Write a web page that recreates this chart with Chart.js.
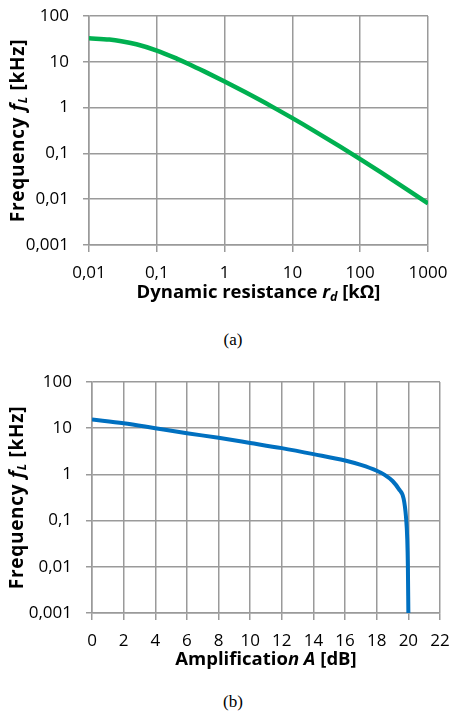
<!DOCTYPE html>
<html lang="en">
<head>
  <meta charset="UTF-8">
  <title>Frequency f_L vs dynamic resistance and amplification</title>
  <script src="https://cdn.jsdelivr.net/npm/chart.js"></script>
  <style>
    body {
      margin: 0;
      background: #fff;
      width: 450px;
      height: 715px;
      position: relative;
      overflow: hidden;
    }
    canvas {
      position: absolute;
      left: 0;
    }
    #chartA { top: 0; }
    #chartB { top: 365px; }
    .caption {
      position: absolute;
      width: 60px;
      left: 203px;
      text-align: center;
      font-family: "Liberation Serif", serif;
      font-size: 17px;
      color: #000;
    }
    #capA { top: 330px; }
    #capB { top: 692px; }
  </style>
</head>
<body>
  <canvas id="chartA" width="450" height="310"></canvas>
  <div class="caption" id="capA">(a)</div>
  <canvas id="chartB" width="450" height="310"></canvas>
  <div class="caption" id="capB">(b)</div>

  <script>
    // (a) dynamic resistance r_d [kOhm] -> frequency f_L [kHz]
    const resistance = [0.01, 0.02, 0.03, 0.05, 0.1, 0.2, 0.3, 0.5, 1, 2, 5, 10, 20, 50, 100, 200, 500, 1000];
    const freqA = [32.5, 30.6, 28.2, 24.1, 17.6, 11.6, 8.87, 6.18, 3.71, 2.18, 1.05, 0.588, 0.323, 0.142, 0.075, 0.0388, 0.016, 0.0081];

    // (b) amplification A [dB] -> frequency f_L [kHz]
    const amplification = [0, 2, 4, 6, 8, 10, 12, 14, 16, 17, 18, 18.5, 19, 19.4, 19.7, 19.85, 19.93, 19.97, 20];
    const freqB = [15.5, 12.8, 10, 7.8, 6.2, 4.8, 3.7, 2.75, 2.0, 1.6, 1.2, 0.98, 0.72, 0.48, 0.3, 0.12, 0.04, 0.01, 0.001];

    // tick values and labels (decimal comma as in the original)
    const freqTicks = [0.001, 0.01, 0.1, 1, 10, 100];
    const freqTickLabels = ['0,001', '0,01', '0,1', '1', '10', '100'];
    const resTicks = [0.01, 0.1, 1, 10, 100, 1000];
    const resTickLabels = ['0,01', '0,1', '1', '10', '100', '1000'];

    const FONT = '"Open Sans", sans-serif';
    Chart.defaults.font.family = FONT;
    Chart.defaults.color = '#000';

    const gridColor = '#9a9a9a';

    // draws a title made of several styled pieces (italic, subscript)
    function drawRich(ctx, parts, cx, cy, spacing) {
      ctx.letterSpacing = (spacing || 0) + 'px';
      let total = 0;
      parts.forEach(p => {
        ctx.font = p.font;
        p.w = ctx.measureText(p.text).width;
        total += p.w;
      });
      let x = cx - total / 2;
      ctx.textBaseline = 'middle';
      ctx.textAlign = 'left';
      parts.forEach(p => {
        ctx.font = p.font;
        ctx.fillText(p.text, x, cy + (p.dy || 0));
        x += p.w;
      });
      ctx.letterSpacing = '0px';
    }

    const axisTitles = {
      id: 'axisTitles',
      afterDraw(chart, args, opts) {
        const ctx = chart.ctx;
        const area = chart.chartArea;
        ctx.save();
        ctx.fillStyle = '#000';
        drawRich(ctx, opts.x, (area.left + area.right) / 2, opts.xTitleY, 0);
        ctx.translate(opts.yTitleX, (area.top + area.bottom) / 2);
        ctx.rotate(-Math.PI / 2);
        drawRich(ctx, opts.y, 0, 0, 0.7);
        ctx.restore();
      }
    };

    const font = (style, size) => style + ' ' + size + 'px ' + FONT;

    const freqTitle = [
      { text: 'Frequency ', font: font('bold', 19) },
      { text: 'f', font: font('italic bold', 19) },
      { text: 'L', font: font('italic bold', 12.5), dy: 4 },
      { text: ' [kHz]', font: font('bold', 19) }
    ];

    // keep the plot area where the layout padding puts it
    const noPadY = s => { s.paddingTop = 0; s.paddingBottom = 0; };
    const noPadX = s => { s.paddingLeft = 0; s.paddingRight = 0; };

    function freqScale(width) {
      return {
        type: 'logarithmic',
        min: 0.001,
        max: 100,
        afterBuildTicks: s => { s.ticks = freqTicks.map(v => ({ value: v })); },
        afterFit: s => { s.width = width; noPadY(s); },
        ticks: {
          font: { size: 17 },
          padding: 14,
          callback: (v, i) => freqTickLabels[i]
        },
        grid: { color: gridColor, lineWidth: 1.5, tickLength: 6 },
        border: { color: gridColor, width: 1.5 }
      };
    }

    const lineOpts = {
      pointRadius: 0,
      fill: false,
      cubicInterpolationMode: 'monotone'
    };

    // ---- chart (a)
    new Chart(document.getElementById('chartA'), {
      type: 'line',
      data: {
        datasets: [{
          data: resistance.map((r, i) => ({ x: r, y: freqA[i] })),
          borderColor: '#00b050',
          borderWidth: 4.5,
          ...lineOpts
        }]
      },
      options: {
        responsive: false,
        animation: false,
        devicePixelRatio: 1,
        layout: { autoPadding: false, padding: { top: 16, right: 22, bottom: 0, left: 0 } },
        plugins: {
          legend: { display: false },
          tooltip: { enabled: false },
          axisTitles: {
            xTitleY: 293,
            yTitleX: 19,
            x: [
              { text: 'Dynamic resistance ', font: font('bold', 18.5) },
              { text: 'r', font: font('italic bold', 18.5) },
              { text: 'd', font: font('italic bold', 12.5), dy: 4 },
              { text: ' [k\u03A9]', font: font('bold', 18.5) }
            ],
            y: freqTitle
          }
        },
        scales: {
          x: {
            type: 'logarithmic',
            min: 0.01,
            max: 1000,
            afterBuildTicks: s => { s.ticks = resTicks.map(v => ({ value: v })); },
            afterFit: s => { s.height = 65; noPadX(s); },
            ticks: {
              font: { size: 17 },
              padding: 11,
              maxRotation: 0,
              callback: (v, i) => resTickLabels[i]
            },
            grid: { color: gridColor, lineWidth: 1.5, tickLength: 7 },
            border: { color: gridColor, width: 1.5 }
          },
          y: freqScale(89)
        }
      },
      plugins: [axisTitles]
    });

    // ---- chart (b)
    new Chart(document.getElementById('chartB'), {
      type: 'line',
      data: {
        datasets: [{
          data: amplification.map((a, i) => ({ x: a, y: freqB[i] })),
          borderColor: '#0070c0',
          borderWidth: 4,
          ...lineOpts
        }]
      },
      options: {
        responsive: false,
        animation: false,
        devicePixelRatio: 1,
        layout: { autoPadding: false, padding: { top: 17, right: 10, bottom: 0, left: 0 } },
        plugins: {
          legend: { display: false },
          tooltip: { enabled: false },
          axisTitles: {
            xTitleY: 295,
            yTitleX: 18,
            x: [
              { text: 'Amplificatio', font: font('bold', 18.5) },
              { text: 'n A', font: font('italic bold', 18.5) },
              { text: ' [dB]', font: font('bold', 18.5) }
            ],
            y: freqTitle
          }
        },
        scales: {
          x: {
            type: 'linear',
            min: 0,
            max: 22,
            afterFit: s => { s.height = 62; noPadX(s); },
            ticks: {
              stepSize: 2,
              font: { size: 17 },
              padding: 11,
              maxRotation: 0
            },
            grid: { color: gridColor, lineWidth: 1.5, tickLength: 7 },
            border: { color: gridColor, width: 1.5 }
          },
          y: freqScale(92)
        }
      },
      plugins: [axisTitles]
    });
  </script>
</body>
</html>
